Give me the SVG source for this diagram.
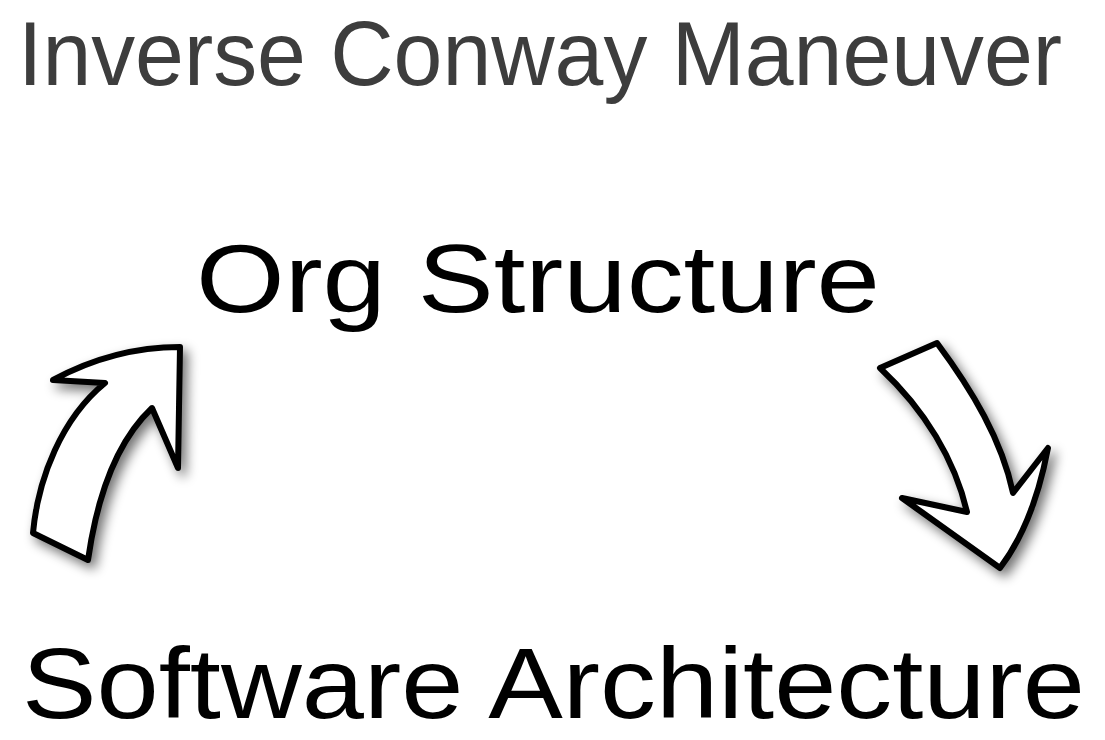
<svg xmlns="http://www.w3.org/2000/svg" width="1105" height="740" viewBox="0 0 1105 740">
<defs>
<style>
.title{font-family:"Liberation Sans","Open Sans",sans-serif;font-size:90px;fill:#3d3d3d}
.label{font-family:"Liberation Sans","Open Sans",sans-serif;fill:#000}
.arrow{fill:#fff;stroke:#000;stroke-width:6;stroke-linejoin:round;filter:url(#shadow)}
</style>
<filter id="shadow" x="-30%" y="-30%" width="160%" height="160%">
<feGaussianBlur in="SourceAlpha" stdDeviation="6"/>
<feOffset dx="5" dy="6" result="b"/>
<feComponentTransfer><feFuncA type="linear" slope="0.55"/></feComponentTransfer>
<feMerge><feMergeNode/><feMergeNode in="SourceGraphic"/></feMerge>
</filter>
</defs>
<rect width="1105" height="740" fill="#fff"/>
<g id="title"><text class="title" x="18" y="85" textLength="1044" lengthAdjust="spacingAndGlyphs">Inverse Conway Maneuver</text></g>
<g id="org-structure"><text class="label" x="196" y="312" font-size="97" textLength="684" lengthAdjust="spacingAndGlyphs">Org Structure</text></g>
<g id="software-architecture"><text class="label" x="22" y="718" font-size="100" textLength="1063" lengthAdjust="spacingAndGlyphs">Software Architecture</text></g>
<g id="connectors">
<path class="arrow" d="M33,533 C38,478 62,418 105,383 L53,380 C90,360 130,347 180,347 L178,468 L152,408 C118,440 98,490 88,560 Z"/>
<path class="arrow" d="M880,368 L937,343 C972,390 1002,440 1013,493 L1048,448 C1040,490 1025,535 1000,568 L902,498 L967,512 C955,460 925,410 880,368 Z"/>
</g>
</svg>
